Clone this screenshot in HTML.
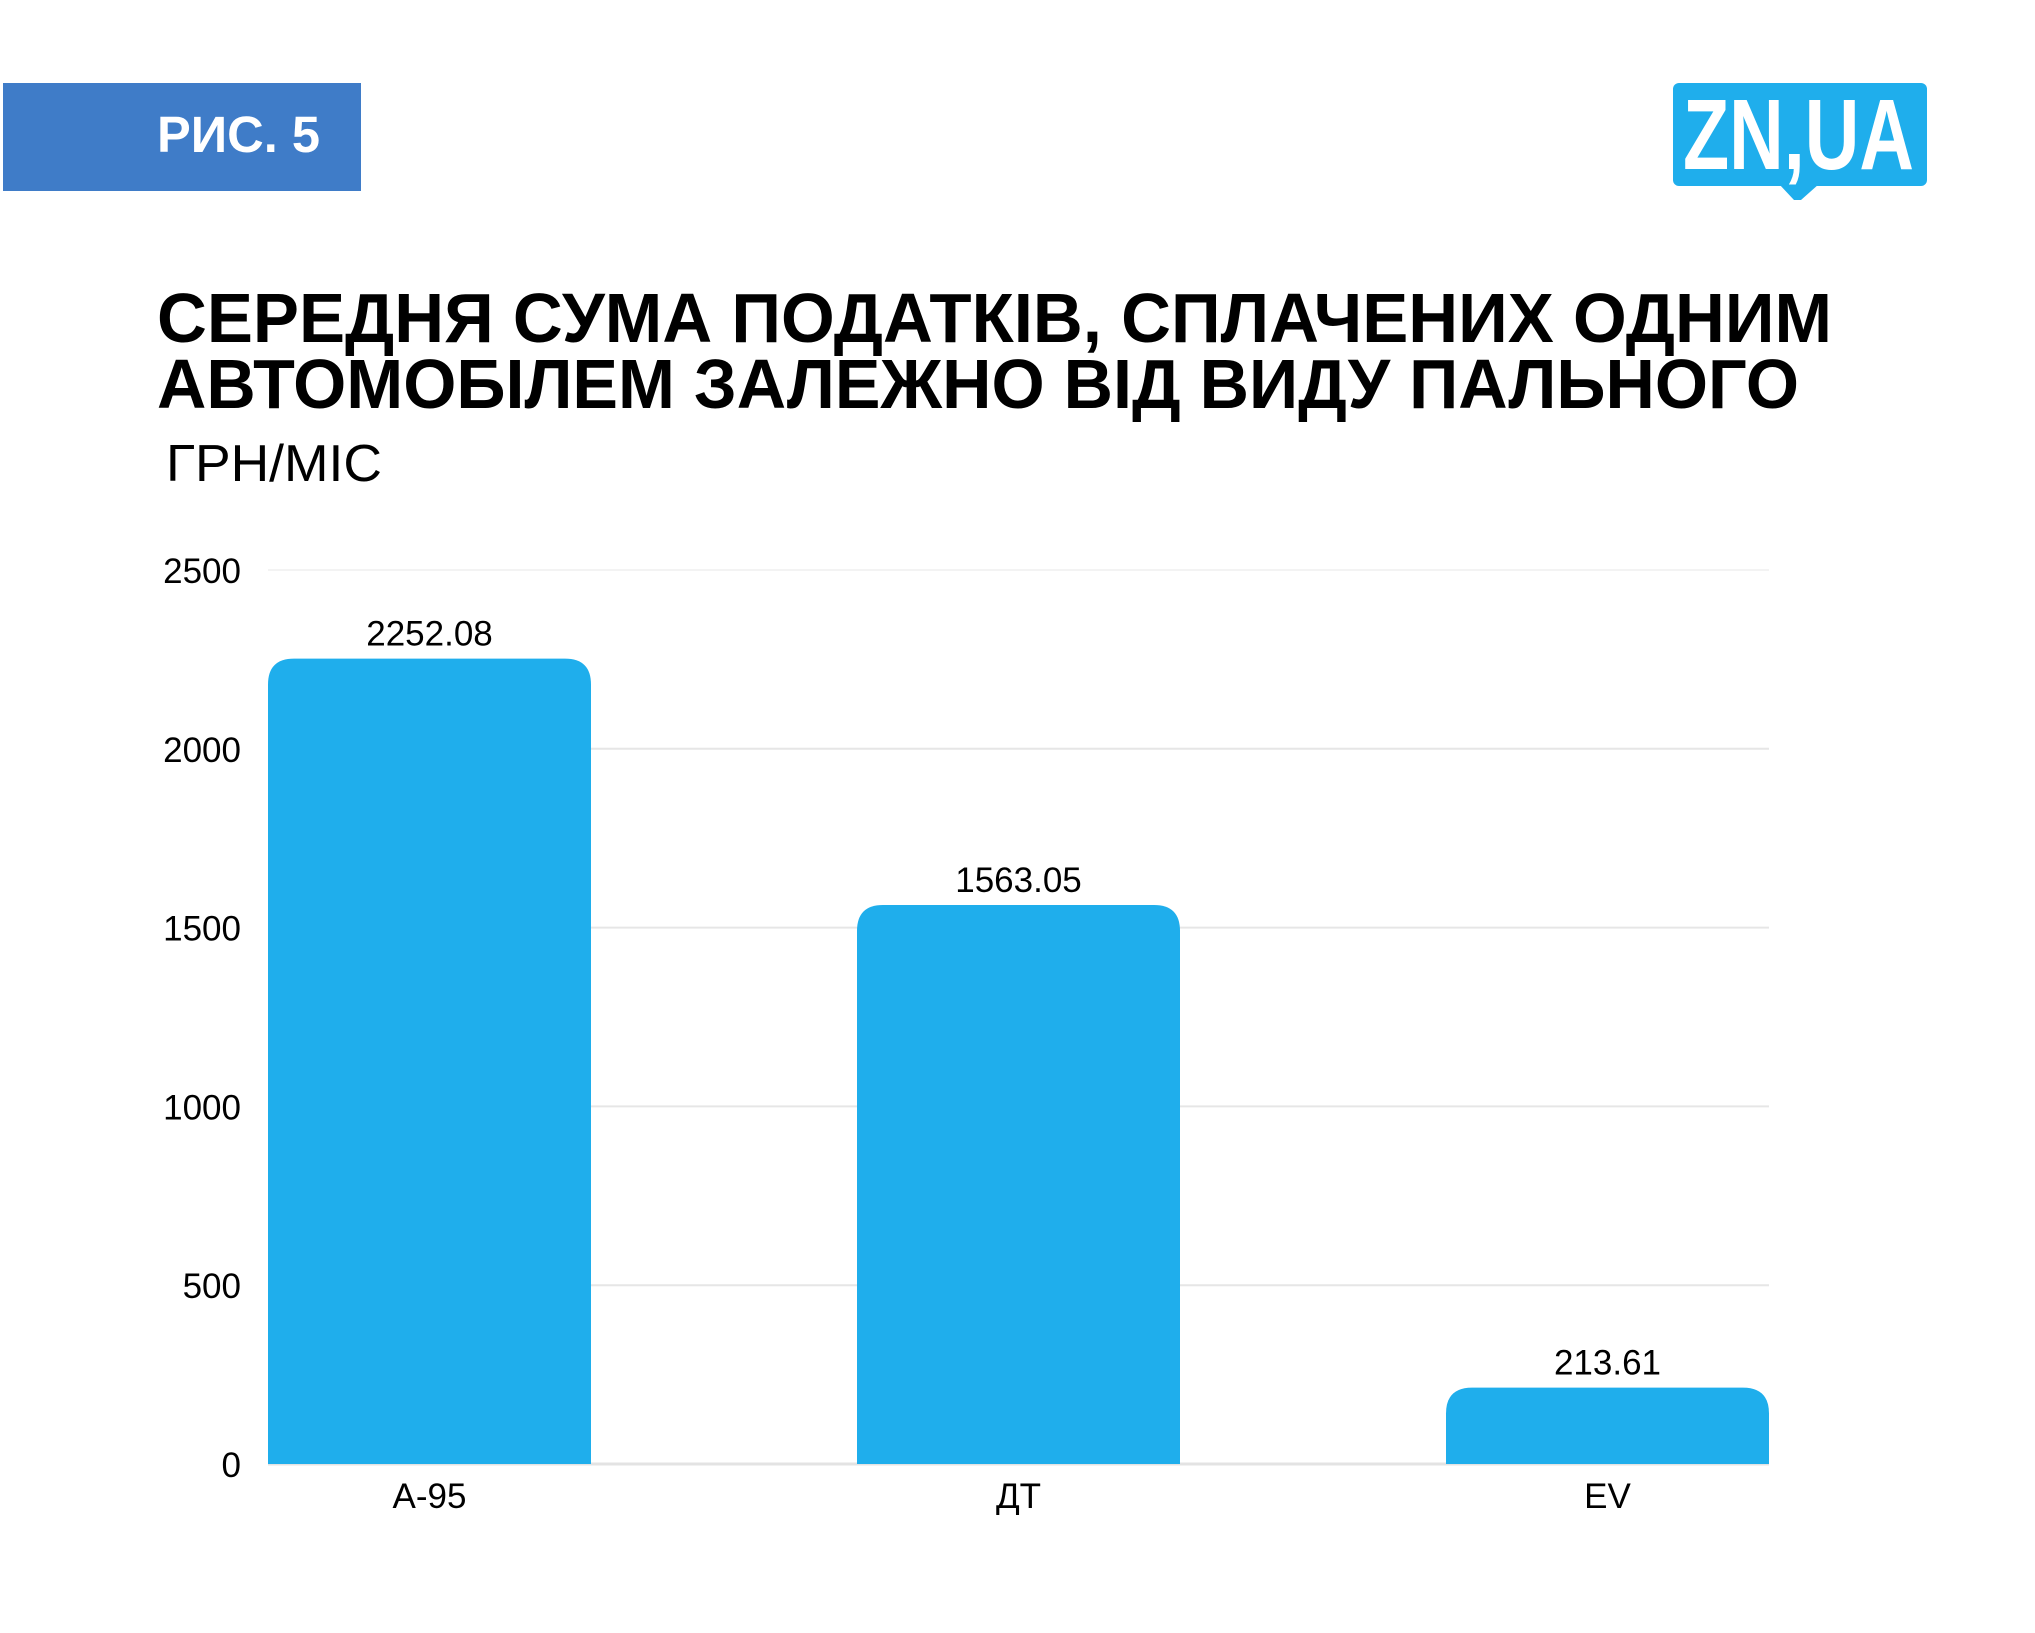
<!DOCTYPE html>
<html><head><meta charset="utf-8"><style>
html,body{margin:0;padding:0;background:#fff;}
svg{display:block;font-family:"Liberation Sans","DejaVu Sans",sans-serif;}
</style></head><body>
<svg id="chart" width="2035" height="1633" viewBox="0 0 2035 1633" xmlns="http://www.w3.org/2000/svg">
<rect width="2035" height="1633" fill="#fff"/>
<g>
<rect x="3" y="83" width="358" height="108" fill="#3F7CC8"/>
<text x="157" y="152" font-size="51" font-weight="bold" fill="#fff" textLength="163" lengthAdjust="spacingAndGlyphs">РИС. 5</text>
</g>
<g>
<rect x="1673" y="83" width="254" height="103" rx="6" fill="#1FAEEC"/>
<polygon points="1779,184 1819,184 1801,200 1794,200" fill="#1FAEEC"/>
<text x="1683" y="169" font-size="100" font-weight="bold" fill="#fff" textLength="231" lengthAdjust="spacingAndGlyphs">ZN,UA</text>
</g>
<text x="157" y="342" font-size="70" font-weight="900" fill="#000" textLength="1675" lengthAdjust="spacingAndGlyphs">СЕРЕДНЯ СУМА ПОДАТКІВ, СПЛАЧЕНИХ ОДНИМ</text>
<text x="157" y="408" font-size="70" font-weight="900" fill="#000" textLength="1642" lengthAdjust="spacingAndGlyphs">АВТОМОБІЛЕМ ЗАЛЕЖНО ВІД ВИДУ ПАЛЬНОГО</text>
<text x="166" y="481" font-size="52" fill="#000" textLength="216" lengthAdjust="spacingAndGlyphs">ГРН/МІС</text>
<g id="grid"></g>
<g id="bars"></g>
</svg>
<script>
const categories = ["А-95", "ДТ", "EV"];
const values = [2252.08, 1563.05, 213.61];
const valueLabels = ["2252.08", "1563.05", "213.61"];
const ticks = [0, 500, 1000, 1500, 2000, 2500];

const NS = "http://www.w3.org/2000/svg";
const y0 = 1464, yTop = 570, vMax = 2500;
const xL = 268, xR = 1769;
function yScale(v){ return y0 - (v / vMax) * (y0 - yTop); }
const barW = 323;
const step = (xR - xL - barW) / (categories.length - 1);
function xCenter(i){ return xL + barW / 2 + step * i; }

const grid = document.getElementById('grid');
ticks.forEach(t => {
  const y = yScale(t);
  const ln = document.createElementNS(NS, 'line');
  
  
  ln.setAttribute('x1', xL); ln.setAttribute('x2', xR);
  ln.setAttribute('y1', y); ln.setAttribute('y2', y);
  ln.setAttribute('stroke', t === 0 ? '#e3e3e3' : (t === 2500 ? '#f3f3f3' : '#e6e6e6'));
  ln.setAttribute('stroke-width', t === 0 ? 3 : 2);
  grid.appendChild(ln);
  const tx = document.createElementNS(NS, 'text');
  
  
  tx.setAttribute('x', 241); tx.setAttribute('y', y + 13);
  tx.setAttribute('text-anchor', 'end');
  tx.setAttribute('font-size', '35');
  tx.textContent = String(t);
  grid.appendChild(tx);
});

const bars = document.getElementById('bars');
categories.forEach((c, i) => {
  const cx = xCenter(i);
  const x = cx - barW / 2;
  const yt = yScale(values[i]);
  const h = y0 - yt;
  const r = Math.min(26, h / 2);
  const p = document.createElementNS(NS, 'path');
  
  
  p.setAttribute('d', `M${x},${y0} L${x},${yt + r} Q${x},${yt} ${x + r},${yt} L${x + barW - r},${yt} Q${x + barW},${yt} ${x + barW},${yt + r} L${x + barW},${y0} Z`);
  p.setAttribute('fill', '#1FAEEC');
  bars.appendChild(p);
  const vl = document.createElementNS(NS, 'text');
  
  
  vl.setAttribute('x', cx); vl.setAttribute('y', yt - 13);
  vl.setAttribute('text-anchor', 'middle');
  vl.setAttribute('font-size', '35');
  vl.textContent = valueLabels[i];
  bars.appendChild(vl);
  const cl = document.createElementNS(NS, 'text');
  
  
  cl.setAttribute('x', cx); cl.setAttribute('y', 1508);
  cl.setAttribute('text-anchor', 'middle');
  cl.setAttribute('font-size', '35');
  cl.textContent = c;
  bars.appendChild(cl);
});
</script>
</body></html>
